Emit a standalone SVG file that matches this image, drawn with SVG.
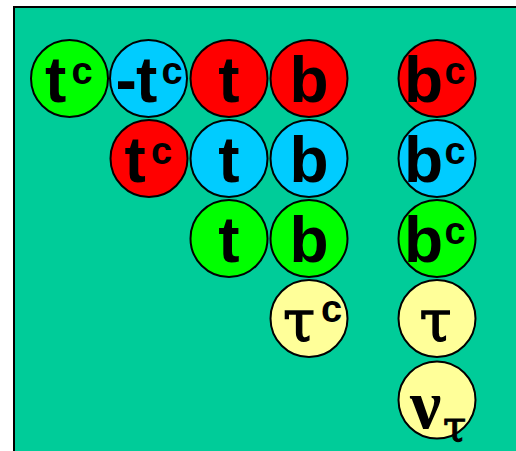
<svg xmlns="http://www.w3.org/2000/svg" width="516" height="451" viewBox="0 0 516 451">
  <style>
    .ball { stroke: #000; stroke-width: 2; }
    .red { fill: #FF0000; }
    .cyan { fill: #00CCFF; }
    .green { fill: #00FF00; }
    .yellow { fill: #FFFF99; }
    .q { font-family: "Liberation Sans", Arial, sans-serif; font-weight: bold; font-size: 64px; fill: #000; }
    .sup { font-family: "Liberation Sans", Arial, sans-serif; font-weight: bold; font-size: 38px; fill: #000; }
    .tau { font-family: "DejaVu Serif", "Liberation Serif", serif; font-size: 58px; fill: #000; stroke: #000; stroke-width: 1.3; }
    .taus { font-family: "DejaVu Serif", "Liberation Serif", serif; font-size: 42px; fill: #000; stroke: #000; stroke-width: 1; }
    .nu { font-family: "Liberation Serif", "Times New Roman", serif; font-weight: bold; font-size: 70px; fill: #000; }
  </style>
  <!-- background panel -->
  <rect x="14" y="7" width="512" height="454" fill="#00CC99" stroke="#000" stroke-width="2"/>

  <!-- row 1 -->
  <g id="tc-green">
    <circle class="ball green" cx="69.5" cy="78.5" r="38.5"/>
    <text class="q" x="45" y="102">t</text>
    <text class="sup" x="71.5" y="83.5">c</text>
  </g>
  <g id="neg-tc-cyan">
    <circle class="ball cyan" cx="148.5" cy="78.5" r="38.5"/>
    <text class="q" x="115.5" y="102">-</text>
    <text class="q" x="136" y="102">t</text>
    <text class="sup" x="161.5" y="83.5">c</text>
  </g>
  <g id="t-red">
    <circle class="ball red" cx="229" cy="78.5" r="38.5"/>
    <text class="q" x="229" y="102" text-anchor="middle">t</text>
  </g>
  <g id="b-red">
    <circle class="ball red" cx="309" cy="78.5" r="38.5"/>
    <text class="q" x="309" y="102" text-anchor="middle">b</text>
  </g>
  <g id="bc-red">
    <circle class="ball red" cx="437" cy="78.5" r="38.5"/>
    <text class="q" x="404" y="102">b</text>
    <text class="sup" x="444.5" y="83.5">c</text>
  </g>

  <!-- row 2 -->
  <g id="tc-red">
    <circle class="ball red" cx="149" cy="158.5" r="38.5"/>
    <text class="q" x="124.5" y="182">t</text>
    <text class="sup" x="151" y="163.5">c</text>
  </g>
  <g id="t-cyan">
    <circle class="ball cyan" cx="229" cy="158.5" r="38.5"/>
    <text class="q" x="229" y="182" text-anchor="middle">t</text>
  </g>
  <g id="b-cyan">
    <circle class="ball cyan" cx="309" cy="158.5" r="38.5"/>
    <text class="q" x="309" y="182" text-anchor="middle">b</text>
  </g>
  <g id="bc-cyan">
    <circle class="ball cyan" cx="437" cy="158.5" r="38.5"/>
    <text class="q" x="404" y="182">b</text>
    <text class="sup" x="444.5" y="163.5">c</text>
  </g>

  <!-- row 3 -->
  <g id="t-green">
    <circle class="ball green" cx="229" cy="238.5" r="38.5"/>
    <text class="q" x="229" y="262" text-anchor="middle">t</text>
  </g>
  <g id="b-green">
    <circle class="ball green" cx="309" cy="238.5" r="38.5"/>
    <text class="q" x="309" y="262" text-anchor="middle">b</text>
  </g>
  <g id="bc-green">
    <circle class="ball green" cx="437" cy="238.5" r="38.5"/>
    <text class="q" x="404" y="262">b</text>
    <text class="sup" x="444.5" y="243.5">c</text>
  </g>

  <!-- leptons -->
  <g id="tau-c">
    <circle class="ball yellow" cx="309" cy="318.5" r="38.5"/>
    <text class="tau" x="283" y="340.5">τ</text>
    <text class="sup" x="321" y="321.5">c</text>
  </g>
  <g id="tau">
    <circle class="ball yellow" cx="437" cy="318.5" r="38.5"/>
    <text class="tau" x="435.5" y="340.5" text-anchor="middle">τ</text>
  </g>
  <g id="nu-tau">
    <circle class="ball yellow" cx="437" cy="400" r="38.5"/>
    <text class="nu" x="410" y="427.5">ν</text>
    <text class="taus" x="443" y="441">τ</text>
  </g>
</svg>
